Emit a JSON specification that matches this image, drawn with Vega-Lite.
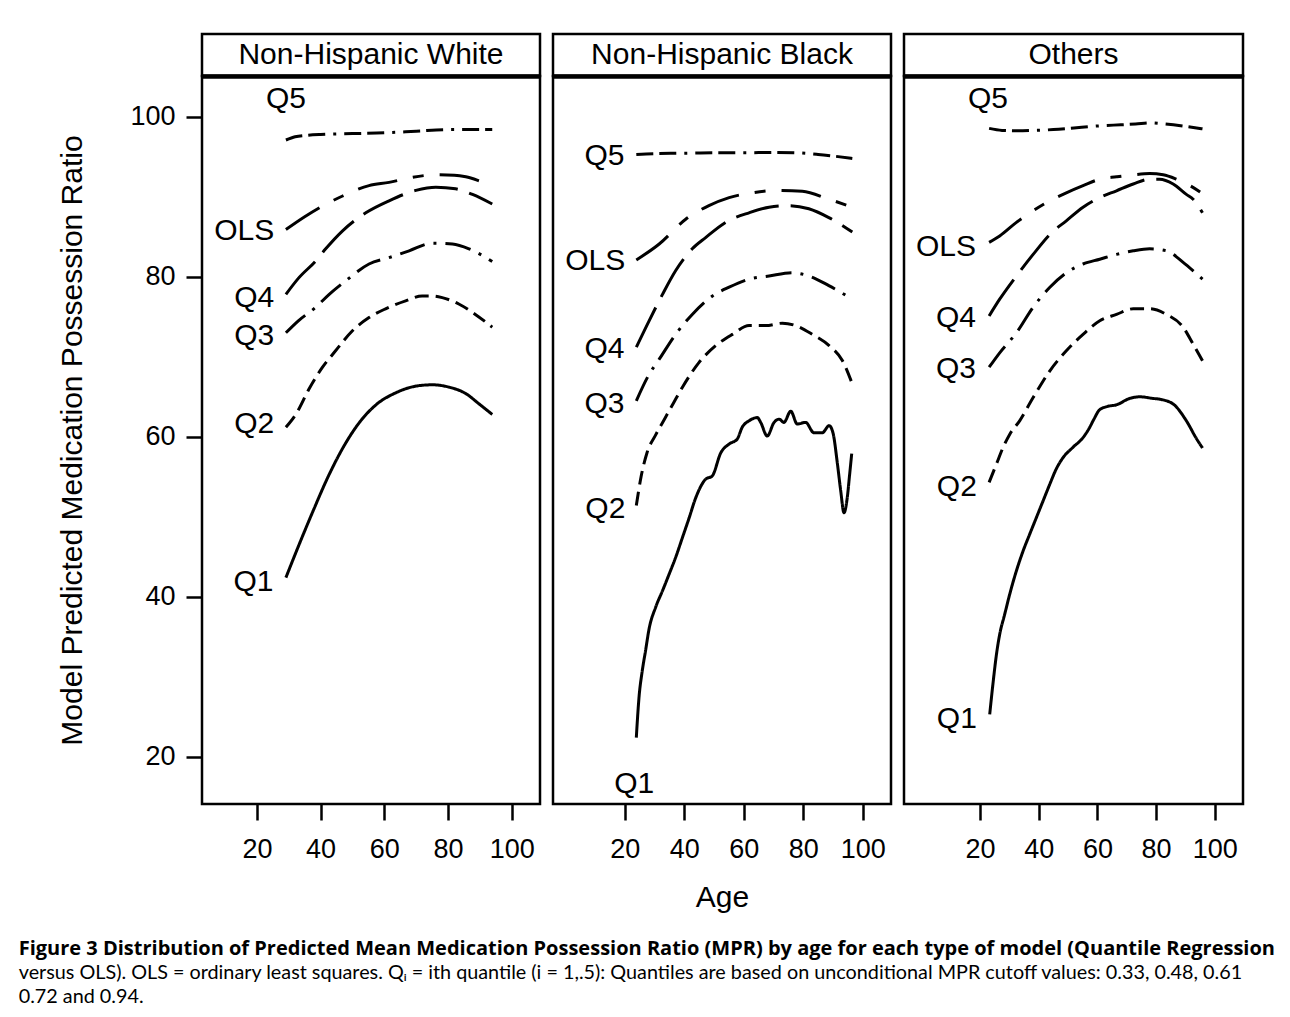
{
  "$schema": "https://vega.github.io/schema/vega-lite/v6.json",
  "padding": {"left": 18, "top": 32, "right": 5, "bottom": 5},
  "background": "white",
  "title": {
    "text": "Figure 3 Distribution of Predicted Mean Medication Possession Ratio (MPR) by age for each type of model (Quantile Regression",
    "subtitle": ["versus OLS). OLS = ordinary least squares. Qᵢ = ith quantile (i = 1,.5): Quantiles are based on unconditional MPR cutoff values: 0.33, 0.48, 0.61", "0.72 and 0.94."],
    "orient": "bottom",
    "anchor": "start",
    "frame": "bounds",
    "dx": -38,
    "offset": 26,
    "font": "Open Sans",
    "fontSize": 20,
    "fontWeight": "bold",
    "color": "black",
    "subtitleFont": "Lato",
    "subtitleFontSize": 19.8,
    "subtitleFontWeight": "normal",
    "subtitleColor": "black",
    "subtitlePadding": 4,
    "subtitleLineHeight": 24
  },
  "config": {
    "font": "Liberation Sans",
    "view": {"stroke": "black", "strokeWidth": 2.5},
    "axis": {
      "grid": false,
      "domain": false,
      "labelFont": "Liberation Sans",
      "labelFontSize": 27,
      "labelColor": "black",
      "tickColor": "black",
      "tickWidth": 2.5,
      "tickSize": 16,
      "titleFont": "Liberation Sans",
      "titleFontSize": 30,
      "titleFontWeight": "normal",
      "titleColor": "black"
    }
  },
  "datasets": {
    "curves": [
      {"panel": "Non-Hispanic White", "series": "Q5", "age": 29.1, "mpr": 97.1},
      {"panel": "Non-Hispanic White", "series": "Q5", "age": 32, "mpr": 97.5},
      {"panel": "Non-Hispanic White", "series": "Q5", "age": 36, "mpr": 97.7},
      {"panel": "Non-Hispanic White", "series": "Q5", "age": 40, "mpr": 97.8},
      {"panel": "Non-Hispanic White", "series": "Q5", "age": 50, "mpr": 97.9},
      {"panel": "Non-Hispanic White", "series": "Q5", "age": 60, "mpr": 98.0},
      {"panel": "Non-Hispanic White", "series": "Q5", "age": 70, "mpr": 98.2},
      {"panel": "Non-Hispanic White", "series": "Q5", "age": 80, "mpr": 98.4},
      {"panel": "Non-Hispanic White", "series": "Q5", "age": 90, "mpr": 98.4},
      {"panel": "Non-Hispanic White", "series": "Q5", "age": 93.9, "mpr": 98.4},
      {"panel": "Non-Hispanic White", "series": "OLS", "age": 29.1, "mpr": 85.9},
      {"panel": "Non-Hispanic White", "series": "OLS", "age": 35, "mpr": 87.5},
      {"panel": "Non-Hispanic White", "series": "OLS", "age": 40.4, "mpr": 88.8},
      {"panel": "Non-Hispanic White", "series": "OLS", "age": 46.9, "mpr": 90.1},
      {"panel": "Non-Hispanic White", "series": "OLS", "age": 55.2, "mpr": 91.4},
      {"panel": "Non-Hispanic White", "series": "OLS", "age": 61.5, "mpr": 91.8},
      {"panel": "Non-Hispanic White", "series": "OLS", "age": 68.3, "mpr": 92.4},
      {"panel": "Non-Hispanic White", "series": "OLS", "age": 76.2, "mpr": 92.75},
      {"panel": "Non-Hispanic White", "series": "OLS", "age": 82, "mpr": 92.7},
      {"panel": "Non-Hispanic White", "series": "OLS", "age": 85.6, "mpr": 92.5},
      {"panel": "Non-Hispanic White", "series": "OLS", "age": 89.8, "mpr": 92.0},
      {"panel": "Non-Hispanic White", "series": "OLS", "age": 93.9, "mpr": 91.4},
      {"panel": "Non-Hispanic White", "series": "Q4", "age": 29.1, "mpr": 77.8},
      {"panel": "Non-Hispanic White", "series": "Q4", "age": 33, "mpr": 79.8},
      {"panel": "Non-Hispanic White", "series": "Q4", "age": 38.5, "mpr": 82.0},
      {"panel": "Non-Hispanic White", "series": "Q4", "age": 41.6, "mpr": 83.5},
      {"panel": "Non-Hispanic White", "series": "Q4", "age": 46.9, "mpr": 85.75},
      {"panel": "Non-Hispanic White", "series": "Q4", "age": 54.2, "mpr": 88.0},
      {"panel": "Non-Hispanic White", "series": "Q4", "age": 61.5, "mpr": 89.5},
      {"panel": "Non-Hispanic White", "series": "Q4", "age": 69.9, "mpr": 90.8},
      {"panel": "Non-Hispanic White", "series": "Q4", "age": 76.2, "mpr": 91.2},
      {"panel": "Non-Hispanic White", "series": "Q4", "age": 82.4, "mpr": 91.0},
      {"panel": "Non-Hispanic White", "series": "Q4", "age": 87.7, "mpr": 90.3},
      {"panel": "Non-Hispanic White", "series": "Q4", "age": 93.9, "mpr": 89.1},
      {"panel": "Non-Hispanic White", "series": "Q3", "age": 29.1, "mpr": 73.0},
      {"panel": "Non-Hispanic White", "series": "Q3", "age": 33, "mpr": 74.5},
      {"panel": "Non-Hispanic White", "series": "Q3", "age": 38.5, "mpr": 76.2},
      {"panel": "Non-Hispanic White", "series": "Q3", "age": 42.7, "mpr": 77.8},
      {"panel": "Non-Hispanic White", "series": "Q3", "age": 47.9, "mpr": 79.5},
      {"panel": "Non-Hispanic White", "series": "Q3", "age": 55.2, "mpr": 81.6},
      {"panel": "Non-Hispanic White", "series": "Q3", "age": 61.5, "mpr": 82.4},
      {"panel": "Non-Hispanic White", "series": "Q3", "age": 67.8, "mpr": 83.25},
      {"panel": "Non-Hispanic White", "series": "Q3", "age": 75.1, "mpr": 84.2},
      {"panel": "Non-Hispanic White", "series": "Q3", "age": 81.4, "mpr": 84.1},
      {"panel": "Non-Hispanic White", "series": "Q3", "age": 86.6, "mpr": 83.5},
      {"panel": "Non-Hispanic White", "series": "Q3", "age": 93.9, "mpr": 81.9},
      {"panel": "Non-Hispanic White", "series": "Q2", "age": 29.1, "mpr": 61.2},
      {"panel": "Non-Hispanic White", "series": "Q2", "age": 32.2, "mpr": 62.8},
      {"panel": "Non-Hispanic White", "series": "Q2", "age": 36.4, "mpr": 66.0},
      {"panel": "Non-Hispanic White", "series": "Q2", "age": 40.6, "mpr": 68.7},
      {"panel": "Non-Hispanic White", "series": "Q2", "age": 44.7, "mpr": 70.75},
      {"panel": "Non-Hispanic White", "series": "Q2", "age": 50.0, "mpr": 73.25},
      {"panel": "Non-Hispanic White", "series": "Q2", "age": 55.2, "mpr": 74.9},
      {"panel": "Non-Hispanic White", "series": "Q2", "age": 60.4, "mpr": 76.0},
      {"panel": "Non-Hispanic White", "series": "Q2", "age": 66.7, "mpr": 77.0},
      {"panel": "Non-Hispanic White", "series": "Q2", "age": 71.9, "mpr": 77.6},
      {"panel": "Non-Hispanic White", "series": "Q2", "age": 75.1, "mpr": 77.6},
      {"panel": "Non-Hispanic White", "series": "Q2", "age": 78.2, "mpr": 77.4},
      {"panel": "Non-Hispanic White", "series": "Q2", "age": 83.4, "mpr": 76.6},
      {"panel": "Non-Hispanic White", "series": "Q2", "age": 88.6, "mpr": 75.3},
      {"panel": "Non-Hispanic White", "series": "Q2", "age": 93.9, "mpr": 73.7},
      {"panel": "Non-Hispanic White", "series": "Q1", "age": 29.1, "mpr": 42.4},
      {"panel": "Non-Hispanic White", "series": "Q1", "age": 32.3, "mpr": 45.6},
      {"panel": "Non-Hispanic White", "series": "Q1", "age": 37.5, "mpr": 50.6},
      {"panel": "Non-Hispanic White", "series": "Q1", "age": 42.7, "mpr": 55.3},
      {"panel": "Non-Hispanic White", "series": "Q1", "age": 48.0, "mpr": 59.3},
      {"panel": "Non-Hispanic White", "series": "Q1", "age": 52.2, "mpr": 61.8},
      {"panel": "Non-Hispanic White", "series": "Q1", "age": 57.4, "mpr": 64.0},
      {"panel": "Non-Hispanic White", "series": "Q1", "age": 63.6, "mpr": 65.5},
      {"panel": "Non-Hispanic White", "series": "Q1", "age": 71.0, "mpr": 66.4},
      {"panel": "Non-Hispanic White", "series": "Q1", "age": 75.1, "mpr": 66.5},
      {"panel": "Non-Hispanic White", "series": "Q1", "age": 80.4, "mpr": 66.2},
      {"panel": "Non-Hispanic White", "series": "Q1", "age": 85.6, "mpr": 65.4},
      {"panel": "Non-Hispanic White", "series": "Q1", "age": 89.8, "mpr": 64.1},
      {"panel": "Non-Hispanic White", "series": "Q1", "age": 93.9, "mpr": 62.8},

      {"panel": "Non-Hispanic Black", "series": "Q5", "age": 23.9, "mpr": 95.3},
      {"panel": "Non-Hispanic Black", "series": "Q5", "age": 30, "mpr": 95.4},
      {"panel": "Non-Hispanic Black", "series": "Q5", "age": 40, "mpr": 95.45},
      {"panel": "Non-Hispanic Black", "series": "Q5", "age": 50, "mpr": 95.5},
      {"panel": "Non-Hispanic Black", "series": "Q5", "age": 60, "mpr": 95.5},
      {"panel": "Non-Hispanic Black", "series": "Q5", "age": 70, "mpr": 95.55},
      {"panel": "Non-Hispanic Black", "series": "Q5", "age": 78, "mpr": 95.5},
      {"panel": "Non-Hispanic Black", "series": "Q5", "age": 85, "mpr": 95.3},
      {"panel": "Non-Hispanic Black", "series": "Q5", "age": 90, "mpr": 95.1},
      {"panel": "Non-Hispanic Black", "series": "Q5", "age": 96.5, "mpr": 94.8},
      {"panel": "Non-Hispanic Black", "series": "OLS", "age": 23.9, "mpr": 82.1},
      {"panel": "Non-Hispanic Black", "series": "OLS", "age": 31.6, "mpr": 84.1},
      {"panel": "Non-Hispanic Black", "series": "OLS", "age": 40.5, "mpr": 87.2},
      {"panel": "Non-Hispanic Black", "series": "OLS", "age": 48.3, "mpr": 88.9},
      {"panel": "Non-Hispanic Black", "series": "OLS", "age": 55.1, "mpr": 89.9},
      {"panel": "Non-Hispanic Black", "series": "OLS", "age": 62.9, "mpr": 90.5},
      {"panel": "Non-Hispanic Black", "series": "OLS", "age": 70.7, "mpr": 90.8},
      {"panel": "Non-Hispanic Black", "series": "OLS", "age": 79.7, "mpr": 90.7},
      {"panel": "Non-Hispanic Black", "series": "OLS", "age": 88.6, "mpr": 89.7},
      {"panel": "Non-Hispanic Black", "series": "OLS", "age": 96.5, "mpr": 88.7},
      {"panel": "Non-Hispanic Black", "series": "Q4", "age": 23.9, "mpr": 71.2},
      {"panel": "Non-Hispanic Black", "series": "Q4", "age": 28.2, "mpr": 74.5},
      {"panel": "Non-Hispanic Black", "series": "Q4", "age": 32.7, "mpr": 77.8},
      {"panel": "Non-Hispanic Black", "series": "Q4", "age": 37.1, "mpr": 80.75},
      {"panel": "Non-Hispanic Black", "series": "Q4", "age": 42.7, "mpr": 83.5},
      {"panel": "Non-Hispanic Black", "series": "Q4", "age": 47.2, "mpr": 84.9},
      {"panel": "Non-Hispanic Black", "series": "Q4", "age": 53.9, "mpr": 86.8},
      {"panel": "Non-Hispanic Black", "series": "Q4", "age": 61.8, "mpr": 88.0},
      {"panel": "Non-Hispanic Black", "series": "Q4", "age": 68.5, "mpr": 88.7},
      {"panel": "Non-Hispanic Black", "series": "Q4", "age": 75.2, "mpr": 88.9},
      {"panel": "Non-Hispanic Black", "series": "Q4", "age": 81.9, "mpr": 88.5},
      {"panel": "Non-Hispanic Black", "series": "Q4", "age": 88.6, "mpr": 87.4},
      {"panel": "Non-Hispanic Black", "series": "Q4", "age": 96.5, "mpr": 85.6},
      {"panel": "Non-Hispanic Black", "series": "Q3", "age": 23.9, "mpr": 64.5},
      {"panel": "Non-Hispanic Black", "series": "Q3", "age": 28.2, "mpr": 67.8},
      {"panel": "Non-Hispanic Black", "series": "Q3", "age": 31.6, "mpr": 69.7},
      {"panel": "Non-Hispanic Black", "series": "Q3", "age": 37.1, "mpr": 72.8},
      {"panel": "Non-Hispanic Black", "series": "Q3", "age": 42.7, "mpr": 75.3},
      {"panel": "Non-Hispanic Black", "series": "Q3", "age": 49.5, "mpr": 77.6},
      {"panel": "Non-Hispanic Black", "series": "Q3", "age": 55.1, "mpr": 78.7},
      {"panel": "Non-Hispanic Black", "series": "Q3", "age": 61.8, "mpr": 79.7},
      {"panel": "Non-Hispanic Black", "series": "Q3", "age": 68.5, "mpr": 80.1},
      {"panel": "Non-Hispanic Black", "series": "Q3", "age": 76.3, "mpr": 80.5},
      {"panel": "Non-Hispanic Black", "series": "Q3", "age": 81.9, "mpr": 80.1},
      {"panel": "Non-Hispanic Black", "series": "Q3", "age": 88.6, "mpr": 78.9},
      {"panel": "Non-Hispanic Black", "series": "Q3", "age": 96.5, "mpr": 77.2},
      {"panel": "Non-Hispanic Black", "series": "Q2", "age": 23.9, "mpr": 51.4},
      {"panel": "Non-Hispanic Black", "series": "Q2", "age": 25.5, "mpr": 55.0},
      {"panel": "Non-Hispanic Black", "series": "Q2", "age": 27.5, "mpr": 58.0},
      {"panel": "Non-Hispanic Black", "series": "Q2", "age": 30.5, "mpr": 60.3},
      {"panel": "Non-Hispanic Black", "series": "Q2", "age": 33.5, "mpr": 62.3},
      {"panel": "Non-Hispanic Black", "series": "Q2", "age": 36.5, "mpr": 64.3},
      {"panel": "Non-Hispanic Black", "series": "Q2", "age": 39.4, "mpr": 66.2},
      {"panel": "Non-Hispanic Black", "series": "Q2", "age": 45.0, "mpr": 69.3},
      {"panel": "Non-Hispanic Black", "series": "Q2", "age": 50.6, "mpr": 71.4},
      {"panel": "Non-Hispanic Black", "series": "Q2", "age": 56.2, "mpr": 72.8},
      {"panel": "Non-Hispanic Black", "series": "Q2", "age": 61.8, "mpr": 73.9},
      {"panel": "Non-Hispanic Black", "series": "Q2", "age": 67.4, "mpr": 73.9},
      {"panel": "Non-Hispanic Black", "series": "Q2", "age": 73.0, "mpr": 74.2},
      {"panel": "Non-Hispanic Black", "series": "Q2", "age": 77.5, "mpr": 73.9},
      {"panel": "Non-Hispanic Black", "series": "Q2", "age": 83.1, "mpr": 72.8},
      {"panel": "Non-Hispanic Black", "series": "Q2", "age": 88.7, "mpr": 71.4},
      {"panel": "Non-Hispanic Black", "series": "Q2", "age": 93.2, "mpr": 69.5},
      {"panel": "Non-Hispanic Black", "series": "Q2", "age": 96.5, "mpr": 66.6},
      {"panel": "Non-Hispanic Black", "series": "Q1", "age": 23.9, "mpr": 22.4},
      {"panel": "Non-Hispanic Black", "series": "Q1", "age": 24.8, "mpr": 27.4},
      {"panel": "Non-Hispanic Black", "series": "Q1", "age": 25.9, "mpr": 30.75},
      {"panel": "Non-Hispanic Black", "series": "Q1", "age": 27.0, "mpr": 33.25},
      {"panel": "Non-Hispanic Black", "series": "Q1", "age": 28.2, "mpr": 36.0},
      {"panel": "Non-Hispanic Black", "series": "Q1", "age": 30.4, "mpr": 38.7},
      {"panel": "Non-Hispanic Black", "series": "Q1", "age": 32.7, "mpr": 40.75},
      {"panel": "Non-Hispanic Black", "series": "Q1", "age": 34.9, "mpr": 42.8},
      {"panel": "Non-Hispanic Black", "series": "Q1", "age": 37.1, "mpr": 44.9},
      {"panel": "Non-Hispanic Black", "series": "Q1", "age": 39.4, "mpr": 47.4},
      {"panel": "Non-Hispanic Black", "series": "Q1", "age": 41.6, "mpr": 49.8},
      {"panel": "Non-Hispanic Black", "series": "Q1", "age": 43.9, "mpr": 52.4},
      {"panel": "Non-Hispanic Black", "series": "Q1", "age": 47.2, "mpr": 54.7},
      {"panel": "Non-Hispanic Black", "series": "Q1", "age": 49.4, "mpr": 55.1},
      {"panel": "Non-Hispanic Black", "series": "Q1", "age": 52.3, "mpr": 58.0},
      {"panel": "Non-Hispanic Black", "series": "Q1", "age": 55.1, "mpr": 59.1},
      {"panel": "Non-Hispanic Black", "series": "Q1", "age": 57.8, "mpr": 59.7},
      {"panel": "Non-Hispanic Black", "series": "Q1", "age": 59.5, "mpr": 61.2},
      {"panel": "Non-Hispanic Black", "series": "Q1", "age": 61.8, "mpr": 62.0},
      {"panel": "Non-Hispanic Black", "series": "Q1", "age": 64.6, "mpr": 62.4},
      {"panel": "Non-Hispanic Black", "series": "Q1", "age": 65.7, "mpr": 61.8},
      {"panel": "Non-Hispanic Black", "series": "Q1", "age": 67.9, "mpr": 60.1},
      {"panel": "Non-Hispanic Black", "series": "Q1", "age": 70.2, "mpr": 61.8},
      {"panel": "Non-Hispanic Black", "series": "Q1", "age": 71.9, "mpr": 62.2},
      {"panel": "Non-Hispanic Black", "series": "Q1", "age": 73.5, "mpr": 61.8},
      {"panel": "Non-Hispanic Black", "series": "Q1", "age": 75.8, "mpr": 63.2},
      {"panel": "Non-Hispanic Black", "series": "Q1", "age": 78.0, "mpr": 61.6},
      {"panel": "Non-Hispanic Black", "series": "Q1", "age": 80.8, "mpr": 61.8},
      {"panel": "Non-Hispanic Black", "series": "Q1", "age": 83.6, "mpr": 60.5},
      {"panel": "Non-Hispanic Black", "series": "Q1", "age": 86.4, "mpr": 60.5},
      {"panel": "Non-Hispanic Black", "series": "Q1", "age": 88.7, "mpr": 61.4},
      {"panel": "Non-Hispanic Black", "series": "Q1", "age": 90.0, "mpr": 60.5},
      {"panel": "Non-Hispanic Black", "series": "Q1", "age": 91.5, "mpr": 56.6},
      {"panel": "Non-Hispanic Black", "series": "Q1", "age": 92.6, "mpr": 53.25},
      {"panel": "Non-Hispanic Black", "series": "Q1", "age": 93.7, "mpr": 50.5},
      {"panel": "Non-Hispanic Black", "series": "Q1", "age": 94.8, "mpr": 52.4},
      {"panel": "Non-Hispanic Black", "series": "Q1", "age": 95.6, "mpr": 55.3},
      {"panel": "Non-Hispanic Black", "series": "Q1", "age": 96.3, "mpr": 57.9},

      {"panel": "Others", "series": "Q5", "age": 23.1, "mpr": 98.55},
      {"panel": "Others", "series": "Q5", "age": 27.5, "mpr": 98.3},
      {"panel": "Others", "series": "Q5", "age": 33, "mpr": 98.25},
      {"panel": "Others", "series": "Q5", "age": 38, "mpr": 98.3},
      {"panel": "Others", "series": "Q5", "age": 45, "mpr": 98.4},
      {"panel": "Others", "series": "Q5", "age": 52, "mpr": 98.6},
      {"panel": "Others", "series": "Q5", "age": 58, "mpr": 98.8},
      {"panel": "Others", "series": "Q5", "age": 62, "mpr": 98.9},
      {"panel": "Others", "series": "Q5", "age": 68, "mpr": 99.0},
      {"panel": "Others", "series": "Q5", "age": 73, "mpr": 99.1},
      {"panel": "Others", "series": "Q5", "age": 78, "mpr": 99.25},
      {"panel": "Others", "series": "Q5", "age": 83, "mpr": 99.1},
      {"panel": "Others", "series": "Q5", "age": 90, "mpr": 98.8},
      {"panel": "Others", "series": "Q5", "age": 95.8, "mpr": 98.5},
      {"panel": "Others", "series": "OLS", "age": 23.1, "mpr": 84.3},
      {"panel": "Others", "series": "OLS", "age": 26.7, "mpr": 85.1},
      {"panel": "Others", "series": "OLS", "age": 32.4, "mpr": 86.8},
      {"panel": "Others", "series": "OLS", "age": 38.1, "mpr": 88.25},
      {"panel": "Others", "series": "OLS", "age": 43.8, "mpr": 89.5},
      {"panel": "Others", "series": "OLS", "age": 49.4, "mpr": 90.5},
      {"panel": "Others", "series": "OLS", "age": 55.1, "mpr": 91.4},
      {"panel": "Others", "series": "OLS", "age": 60.8, "mpr": 92.2},
      {"panel": "Others", "series": "OLS", "age": 66.5, "mpr": 92.5},
      {"panel": "Others", "series": "OLS", "age": 72.2, "mpr": 92.75},
      {"panel": "Others", "series": "OLS", "age": 77.8, "mpr": 92.9},
      {"panel": "Others", "series": "OLS", "age": 82.4, "mpr": 92.75},
      {"panel": "Others", "series": "OLS", "age": 86.9, "mpr": 92.2},
      {"panel": "Others", "series": "OLS", "age": 91.5, "mpr": 91.4},
      {"panel": "Others", "series": "OLS", "age": 95.8, "mpr": 90.4},
      {"panel": "Others", "series": "Q4", "age": 23.1, "mpr": 75.1},
      {"panel": "Others", "series": "Q4", "age": 26.7, "mpr": 77.2},
      {"panel": "Others", "series": "Q4", "age": 32.4, "mpr": 80.1},
      {"panel": "Others", "series": "Q4", "age": 38.1, "mpr": 82.8},
      {"panel": "Others", "series": "Q4", "age": 43.8, "mpr": 85.3},
      {"panel": "Others", "series": "Q4", "age": 49.4, "mpr": 87.0},
      {"panel": "Others", "series": "Q4", "age": 55.1, "mpr": 88.7},
      {"panel": "Others", "series": "Q4", "age": 60.8, "mpr": 89.9},
      {"panel": "Others", "series": "Q4", "age": 66.5, "mpr": 90.75},
      {"panel": "Others", "series": "Q4", "age": 72.2, "mpr": 91.6},
      {"panel": "Others", "series": "Q4", "age": 77.8, "mpr": 92.2},
      {"panel": "Others", "series": "Q4", "age": 81.2, "mpr": 92.2},
      {"panel": "Others", "series": "Q4", "age": 85.8, "mpr": 91.6},
      {"panel": "Others", "series": "Q4", "age": 90.3, "mpr": 90.3},
      {"panel": "Others", "series": "Q4", "age": 92.6, "mpr": 89.7},
      {"panel": "Others", "series": "Q4", "age": 95.8, "mpr": 88.0},
      {"panel": "Others", "series": "Q3", "age": 23.1, "mpr": 68.7},
      {"panel": "Others", "series": "Q3", "age": 26.7, "mpr": 70.5},
      {"panel": "Others", "series": "Q3", "age": 32.4, "mpr": 73.0},
      {"panel": "Others", "series": "Q3", "age": 38.1, "mpr": 76.2},
      {"panel": "Others", "series": "Q3", "age": 43.8, "mpr": 78.7},
      {"panel": "Others", "series": "Q3", "age": 49.4, "mpr": 80.5},
      {"panel": "Others", "series": "Q3", "age": 55.1, "mpr": 81.6},
      {"panel": "Others", "series": "Q3", "age": 60.8, "mpr": 82.2},
      {"panel": "Others", "series": "Q3", "age": 66.5, "mpr": 82.8},
      {"panel": "Others", "series": "Q3", "age": 72.2, "mpr": 83.25},
      {"panel": "Others", "series": "Q3", "age": 77.8, "mpr": 83.5},
      {"panel": "Others", "series": "Q3", "age": 83.5, "mpr": 83.25},
      {"panel": "Others", "series": "Q3", "age": 89.2, "mpr": 81.8},
      {"panel": "Others", "series": "Q3", "age": 92.6, "mpr": 80.75},
      {"panel": "Others", "series": "Q3", "age": 95.8, "mpr": 79.7},
      {"panel": "Others", "series": "Q2", "age": 23.1, "mpr": 54.3},
      {"panel": "Others", "series": "Q2", "age": 25.6, "mpr": 56.6},
      {"panel": "Others", "series": "Q2", "age": 27.9, "mpr": 58.7},
      {"panel": "Others", "series": "Q2", "age": 30.1, "mpr": 60.3},
      {"panel": "Others", "series": "Q2", "age": 33.5, "mpr": 62.0},
      {"panel": "Others", "series": "Q2", "age": 38.1, "mpr": 64.9},
      {"panel": "Others", "series": "Q2", "age": 43.8, "mpr": 68.25},
      {"panel": "Others", "series": "Q2", "age": 49.4, "mpr": 70.75},
      {"panel": "Others", "series": "Q2", "age": 55.1, "mpr": 72.8},
      {"panel": "Others", "series": "Q2", "age": 60.8, "mpr": 74.5},
      {"panel": "Others", "series": "Q2", "age": 66.5, "mpr": 75.3},
      {"panel": "Others", "series": "Q2", "age": 72.2, "mpr": 76.0},
      {"panel": "Others", "series": "Q2", "age": 77.8, "mpr": 76.0},
      {"panel": "Others", "series": "Q2", "age": 83.5, "mpr": 75.3},
      {"panel": "Others", "series": "Q2", "age": 89.2, "mpr": 73.7},
      {"panel": "Others", "series": "Q2", "age": 92.6, "mpr": 71.6},
      {"panel": "Others", "series": "Q2", "age": 95.8, "mpr": 69.5},
      {"panel": "Others", "series": "Q1", "age": 23.3, "mpr": 25.3},
      {"panel": "Others", "series": "Q1", "age": 24.4, "mpr": 29.1},
      {"panel": "Others", "series": "Q1", "age": 25.6, "mpr": 32.8},
      {"panel": "Others", "series": "Q1", "age": 26.7, "mpr": 35.3},
      {"panel": "Others", "series": "Q1", "age": 28.4, "mpr": 37.8},
      {"panel": "Others", "series": "Q1", "age": 30.1, "mpr": 40.3},
      {"panel": "Others", "series": "Q1", "age": 32.4, "mpr": 43.25},
      {"panel": "Others", "series": "Q1", "age": 34.7, "mpr": 45.75},
      {"panel": "Others", "series": "Q1", "age": 36.9, "mpr": 47.8},
      {"panel": "Others", "series": "Q1", "age": 39.2, "mpr": 49.9},
      {"panel": "Others", "series": "Q1", "age": 41.5, "mpr": 52.0},
      {"panel": "Others", "series": "Q1", "age": 43.8, "mpr": 54.1},
      {"panel": "Others", "series": "Q1", "age": 46.0, "mpr": 56.0},
      {"panel": "Others", "series": "Q1", "age": 48.3, "mpr": 57.4},
      {"panel": "Others", "series": "Q1", "age": 51.7, "mpr": 58.7},
      {"panel": "Others", "series": "Q1", "age": 55.1, "mpr": 59.9},
      {"panel": "Others", "series": "Q1", "age": 57.4, "mpr": 61.2},
      {"panel": "Others", "series": "Q1", "age": 58.8, "mpr": 62.2},
      {"panel": "Others", "series": "Q1", "age": 60.8, "mpr": 63.4},
      {"panel": "Others", "series": "Q1", "age": 63.5, "mpr": 63.8},
      {"panel": "Others", "series": "Q1", "age": 66.5, "mpr": 64.0},
      {"panel": "Others", "series": "Q1", "age": 71.0, "mpr": 64.8},
      {"panel": "Others", "series": "Q1", "age": 74.5, "mpr": 65.0},
      {"panel": "Others", "series": "Q1", "age": 78.9, "mpr": 64.8},
      {"panel": "Others", "series": "Q1", "age": 81.2, "mpr": 64.7},
      {"panel": "Others", "series": "Q1", "age": 85.8, "mpr": 64.1},
      {"panel": "Others", "series": "Q1", "age": 90.3, "mpr": 62.0},
      {"panel": "Others", "series": "Q1", "age": 93.7, "mpr": 59.8},
      {"panel": "Others", "series": "Q1", "age": 95.8, "mpr": 58.6}
    ],
    "labels": [
      {"panel": "Non-Hispanic White", "label": "Q5", "age": 29.1, "mpr": 102.25},
      {"panel": "Non-Hispanic White", "label": "OLS", "age": 16.0, "mpr": 85.75},
      {"panel": "Non-Hispanic White", "label": "Q4", "age": 19.15, "mpr": 77.4},
      {"panel": "Non-Hispanic White", "label": "Q3", "age": 19.15, "mpr": 72.6},
      {"panel": "Non-Hispanic White", "label": "Q2", "age": 19.15, "mpr": 61.6},
      {"panel": "Non-Hispanic White", "label": "Q1", "age": 18.9, "mpr": 41.8},
      {"panel": "Non-Hispanic Black", "label": "Q5", "age": 13.2, "mpr": 95.1},
      {"panel": "Non-Hispanic Black", "label": "OLS", "age": 10.1, "mpr": 82.0},
      {"panel": "Non-Hispanic Black", "label": "Q4", "age": 13.2, "mpr": 71.0},
      {"panel": "Non-Hispanic Black", "label": "Q3", "age": 13.2, "mpr": 64.1},
      {"panel": "Non-Hispanic Black", "label": "Q2", "age": 13.5, "mpr": 51.0},
      {"panel": "Non-Hispanic Black", "label": "Q1", "age": 23.2, "mpr": 16.6},
      {"panel": "Others", "label": "Q5", "age": 22.7, "mpr": 102.2},
      {"panel": "Others", "label": "OLS", "age": 8.4, "mpr": 83.7},
      {"panel": "Others", "label": "Q4", "age": 11.8, "mpr": 74.9},
      {"panel": "Others", "label": "Q3", "age": 11.8, "mpr": 68.5},
      {"panel": "Others", "label": "Q2", "age": 12.1, "mpr": 53.7},
      {"panel": "Others", "label": "Q1", "age": 12.1, "mpr": 24.7}
    ]
  },
  "spacing": 9,
  "hconcat": [
    {
      "spacing": 0,
      "bounds": "flush",
      "vconcat": [
        {
          "width": 338,
          "height": 42,
          "data": {"values": [{"panel": "Non-Hispanic White"}]},
          "mark": {"type": "text", "fontSize": 30, "font": "Liberation Sans", "baseline": "middle", "color": "black"},
          "encoding": {
            "x": {"field": "panel", "type": "nominal", "axis": {"orient": "bottom", "labels": false, "ticks": false, "title": null, "domain": true, "domainWidth": 4.5, "domainColor": "black"}},
            "text": {"field": "panel"}
          }
        },
        {
          "width": 338,
          "height": 728,
          "encoding": {
            "x": {"field": "age", "type": "quantitative", "scale": {"domain": [2.75, 108.9], "nice": false, "zero": false}, "axis": {"values": [20, 40, 60, 80, 100], "labelPadding": 16, "title": null}},
            "y": {"field": "mpr", "type": "quantitative", "scale": {"domain": [14.1, 105.1], "nice": false, "zero": false}, "axis": {"values": [20, 40, 60, 80, 100], "labelPadding": 11, "title": "Model Predicted Medication Possession Ratio", "titlePadding": 42}}
          },
          "layer": [
            {
              "data": {"name": "curves"},
              "transform": [{"filter": "datum.panel === 'Non-Hispanic White'"}],
              "mark": {"type": "line", "strokeWidth": 3, "color": "black", "interpolate": "monotone"},
              "encoding": {
                "strokeDash": {"field": "series", "type": "nominal", "scale": {"domain": ["Q1", "Q2", "Q3", "Q4", "Q5", "OLS"], "range": [[1, 0], [14, 7], [26, 9, 3, 9], [44, 12], [17, 6, 17, 8, 3, 8], [40, 16, 11, 16]]}, "legend": null}
              }
            },
            {
              "data": {"name": "labels"},
              "transform": [{"filter": "datum.panel === 'Non-Hispanic White'"}],
              "mark": {"type": "text", "fontSize": 30, "font": "Liberation Sans", "align": "center", "baseline": "middle", "color": "black"},
              "encoding": {"text": {"field": "label"}}
            }
          ]
        }
      ]
    },
    {
      "spacing": 0,
      "bounds": "flush",
      "vconcat": [
        {
          "width": 338,
          "height": 42,
          "data": {"values": [{"panel": "Non-Hispanic Black"}]},
          "mark": {"type": "text", "fontSize": 30, "font": "Liberation Sans", "baseline": "middle", "color": "black"},
          "encoding": {
            "x": {"field": "panel", "type": "nominal", "axis": {"orient": "bottom", "labels": false, "ticks": false, "title": null, "domain": true, "domainWidth": 4.5, "domainColor": "black"}},
            "text": {"field": "panel"}
          }
        },
        {
          "width": 338,
          "height": 728,
          "encoding": {
            "x": {"field": "age", "type": "quantitative", "scale": {"domain": [-4.1, 109.5], "nice": false, "zero": false}, "axis": {"values": [20, 40, 60, 80, 100], "labelPadding": 16, "title": "Age", "titlePadding": 20}},
            "y": {"field": "mpr", "type": "quantitative", "scale": {"domain": [14.1, 105.1], "nice": false, "zero": false}, "axis": null}
          },
          "layer": [
            {
              "data": {"name": "curves"},
              "transform": [{"filter": "datum.panel === 'Non-Hispanic Black'"}],
              "mark": {"type": "line", "strokeWidth": 3, "color": "black", "interpolate": "monotone"},
              "encoding": {
                "strokeDash": {"field": "series", "type": "nominal", "scale": {"domain": ["Q1", "Q2", "Q3", "Q4", "Q5", "OLS"], "range": [[1, 0], [14, 7], [26, 9, 3, 9], [44, 12], [17, 6, 17, 8, 3, 8], [40, 16, 11, 16]]}, "legend": null}
              }
            },
            {
              "data": {"name": "labels"},
              "transform": [{"filter": "datum.panel === 'Non-Hispanic Black'"}],
              "mark": {"type": "text", "fontSize": 30, "font": "Liberation Sans", "align": "center", "baseline": "middle", "color": "black"},
              "encoding": {"text": {"field": "label"}}
            }
          ]
        }
      ]
    },
    {
      "spacing": 0,
      "bounds": "flush",
      "vconcat": [
        {
          "width": 339,
          "height": 42,
          "data": {"values": [{"panel": "Others"}]},
          "mark": {"type": "text", "fontSize": 30, "font": "Liberation Sans", "baseline": "middle", "color": "black"},
          "encoding": {
            "x": {"field": "panel", "type": "nominal", "axis": {"orient": "bottom", "labels": false, "ticks": false, "title": null, "domain": true, "domainWidth": 4.5, "domainColor": "black"}},
            "text": {"field": "panel"}
          }
        },
        {
          "width": 339,
          "height": 728,
          "encoding": {
            "x": {"field": "age", "type": "quantitative", "scale": {"domain": [-5.9, 109.6], "nice": false, "zero": false}, "axis": {"values": [20, 40, 60, 80, 100], "labelPadding": 16, "title": null}},
            "y": {"field": "mpr", "type": "quantitative", "scale": {"domain": [14.1, 105.1], "nice": false, "zero": false}, "axis": null}
          },
          "layer": [
            {
              "data": {"name": "curves"},
              "transform": [{"filter": "datum.panel === 'Others'"}],
              "mark": {"type": "line", "strokeWidth": 3, "color": "black", "interpolate": "monotone"},
              "encoding": {
                "strokeDash": {"field": "series", "type": "nominal", "scale": {"domain": ["Q1", "Q2", "Q3", "Q4", "Q5", "OLS"], "range": [[1, 0], [14, 7], [26, 9, 3, 9], [44, 12], [17, 6, 17, 8, 3, 8], [40, 16, 11, 16]]}, "legend": null}
              }
            },
            {
              "data": {"name": "labels"},
              "transform": [{"filter": "datum.panel === 'Others'"}],
              "mark": {"type": "text", "fontSize": 30, "font": "Liberation Sans", "align": "center", "baseline": "middle", "color": "black"},
              "encoding": {"text": {"field": "label"}}
            }
          ]
        }
      ]
    }
  ]
}
